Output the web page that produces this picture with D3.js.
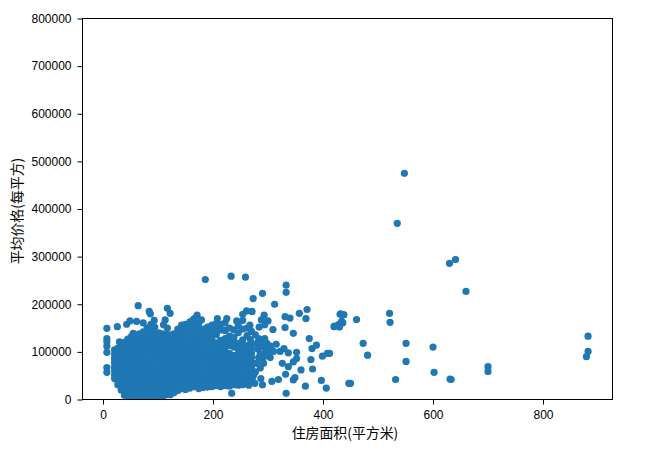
<!DOCTYPE html>
<html><head><meta charset="utf-8">
<script src="https://cdn.jsdelivr.net/npm/d3@7/dist/d3.min.js"></script>
<style>html,body{margin:0;padding:0;background:#fff}svg{display:block}</style>
</head><body><div id="chart"></div>
<script>
const xLabel = "住房面积(平方米)";
const yLabel = "平均价格(每平方)";
const xTicks = [0, 200, 400, 600, 800];
const yTicks = [0, 100000, 200000, 300000, 400000, 500000, 600000, 700000, 800000];

// Dense mass: estimated area (column) and its prices in thousands
const massAreas = [21,27,33,39,45,52,59,66,73,80,87,94,101,108,115,122,129,136,143,150,158,166,174,182,190,198,206,214,222,230,238,246,254,262,270];
const massPrices = [
 [104,95,86,78,69,61,52,44],
 [108,99,90,81,72,64,55,46,38,31],
 [113,104,95,86,78,69,60,52,43,35,27,20],
 [120,111,101,93,84,75,66,58,49,41,32,24,16,9],
 [127,117,108,99,90,81,72,63,55,46,38,29,21,12,6],
 [133,124,114,105,96,87,78,70,61,52,43,35,26,18,10,4],
 [136,127,117,108,99,90,81,73,64,55,46,37,29,20,12,5],
 [138,129,120,110,101,92,83,74,65,57,48,39,30,22,13,6],
 [142,133,123,114,105,96,87,78,69,60,51,42,34,25,16,8,3],
 [150,140,130,121,112,103,94,85,76,67,58,49,40,31,23,14,7],
 [158,146,135,125,116,107,98,89,80,71,62,53,44,35,26,17,9,3],
 [152,141,131,122,113,104,95,86,77,68,59,50,41,32,23,14,7],
 [140,131,121,112,103,94,85,76,67,58,49,40,31,22,13,6],
 [138,129,120,111,102,93,84,75,66,57,48,39,30,21,12,5],
 [137,127,118,109,100,91,82,73,64,55,46,37,28,19,10],
 [136,126,117,108,99,90,81,72,63,54,45,36,27,18,10],
 [138,129,119,110,101,92,83,74,65,56,47,38,29,20,14],
 [148,137,127,118,109,100,91,82,73,64,55,46,37,28,19],
 [152,142,132,122,113,104,95,86,77,68,59,50,41,32,23],
 [158,147,137,127,117,108,99,90,81,72,63,54,45,36,27,21],
 [163,152,142,131,121,112,103,94,85,76,67,58,49,40,31,24],
 [170,158,147,136,126,116,107,98,89,80,71,62,53,44,35,27],
 [160,150,139,129,119,110,101,92,83,74,65,56,47,38,29,23],
 [148,138,128,119,110,101,92,83,74,65,56,47,38,30,25],
 [152,141,131,121,112,103,94,85,76,67,58,49,40,32,26],
 [156,145,134,124,115,106,97,88,79,70,61,52,43,34,27],
 [160,148,136,119,111,100,90,82,73,64,55,46,37,29],
 [158,146,124,113,104,95,86,77,68,59,50,41,33,27],
 [161,145,128,118,109,100,91,80,71,62,53,44,35,29],
 [150,133,123,113,97,88,79,70,61,52,43,34,28],
 [146,130,120,110,92,84,75,66,57,48,39,31],
 [155,140,118,107,97,88,79,70,61,52,44,36,30],
 [166,148,125,112,101,91,82,73,64,56,47,38,31],
 [150,134,113,104,94,85,76,67,58,50,42,34],
 [143,117,107,97,88,78,68,59,48,38]
];

// Scattered points read individually
const looseAreas = [7,26,64,7,7,7,7,7,7,30,43,49,61,55,84,86,93,73,117,122,113,110,117,143,171,164,179,186,233,259,273,290,312,333,333,208,225,243,254,261,271,267,293,288,300,294,309,331,340,331,346,357,371,369,375,380,388,352,378,399,408,352,346,337,326,332,360,381,346,349,368,397,406,447,333,319,307,290,234,432,437,434,428,420,315,322,329,337,300,285,548,535,630,641,660,521,522,461,431,438,436,431,421,430,473,481,551,551,600,602,631,633,532,450,700,700,882,882,879,412,
 284,277,288,280,292,286,296,283,290,298,302,292,286,277,272,265,305,310,296,281,276,274,283,268,279,287,294,300,304];
const loosePrices = [149.5,153,197,128,121,112,99,67,57,121,158,165,164,139,185,180,166,161,191.5,181,167,157,150,156,177,167,167,252,259,257,212,223,200,240,225,170,170,165,179,186,185,156,177,167,165,157,147,174,171,151,139,181,189,170,128,107,114,99,84,91,97,86,79,69,76,53,62,64,41,46,28,40,24,34,13,42,38,31,13,180,178,164,157,153,116,101,107,98,103,110,475,370,286,294,227,181,162,168,179,178,161,159,154,152,118,93,118,80,110,57,43,42,42,34,69,59,133,101,90,97,
 152,136,125,118,112,96,104,88,84,118,100,76,66,58,46,30,112,101,92,106,34,52,128,126,76,44,128,96,88];

const W = 647, H = 453;
const m = {left: 82.5, right: 612.5, top: 18.5, bottom: 399.5};
const x = d3.scaleLinear().domain([-37.3, 926.4]).range([m.left, m.right]);
const y = d3.scaleLinear().domain([0, 800000]).range([m.bottom, m.top]);

const points = [];
massAreas.forEach((a, i) => massPrices[i].forEach(p => points.push([a, p * 1000])));
looseAreas.forEach((a, i) => points.push([a, loosePrices[i] * 1000]));

const svg = d3.select("#chart").append("svg").attr("width", W).attr("height", H);
svg.append("rect").attr("width", W).attr("height", H).attr("fill", "#fff");
svg.append("clipPath").attr("id", "plot").append("rect")
  .attr("x", m.left).attr("y", m.top).attr("width", m.right - m.left).attr("height", m.bottom - m.top);

svg.append("g").attr("clip-path", "url(#plot)").selectAll("circle").data(points).join("circle")
  .attr("cx", d => x(d[0])).attr("cy", d => y(d[1])).attr("r", 3.6).attr("fill", "#1f77b4");

const font = "'Liberation Sans', Arial, sans-serif";
const gx = svg.append("g").attr("transform", `translate(0,${m.bottom})`)
  .call(d3.axisBottom(x).tickValues(xTicks).tickFormat(d3.format("d")).tickSize(5).tickPadding(6).tickSizeOuter(0));
const gy = svg.append("g").attr("transform", `translate(${m.left},0)`)
  .call(d3.axisLeft(y).tickValues(yTicks).tickFormat(d3.format("d")).tickSize(5).tickPadding(6).tickSizeOuter(0));
[gx, gy].forEach(g => {
  g.selectAll("text").attr("font-family", font).attr("font-size", 12).attr("fill", "#000");
  g.selectAll("line").attr("stroke", "#000").attr("stroke-width", 1);
  g.select(".domain").remove();
});
svg.append("rect").attr("x", m.left).attr("y", m.top).attr("width", m.right - m.left).attr("height", m.bottom - m.top)
  .attr("fill", "none").attr("stroke", "#000").attr("stroke-width", 1);

const cjk = "'Noto Sans CJK SC', sans-serif";
svg.append("text").attr("x", 345).attr("y", 438).attr("text-anchor", "middle")
  .attr("font-family", cjk).attr("font-size", 13.9).attr("fill", "#000").text(xLabel);
svg.append("text").attr("transform", "translate(22,211) rotate(-90)").attr("text-anchor", "middle")
  .attr("font-family", cjk).attr("font-size", 13.9).attr("fill", "#000").text(yLabel);
</script></body></html>
